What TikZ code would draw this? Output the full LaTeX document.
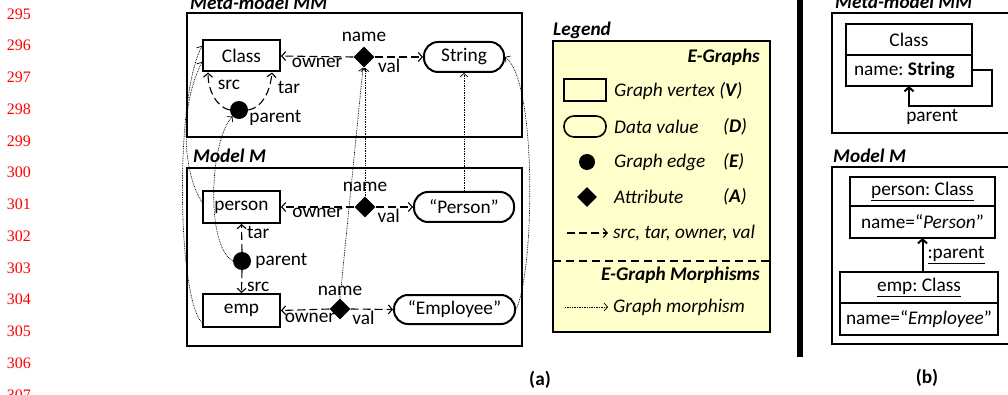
\documentclass[tikz,border=0pt]{standalone}
\usepackage{fontspec}
\setmainfont{Carlito}
\newfontfamily\linenofont{Liberation Serif}
\usepackage{tikz}
\usetikzlibrary{arrows.meta,positioning,shapes.geometric,calc}
\usepackage{xcolor}
\definecolor{legendyellow}{HTML}{FFFFCC}
\definecolor{linenored}{HTML}{FF0000}
\frenchspacing

\begin{document}
\begin{tikzpicture}[
  x=1pt, y=-1pt,
  font=\fontsize{19.3pt}{22pt}\selectfont,
  vertexbox/.style={
    draw,
    line width=2pt,
    minimum width=77pt,
    minimum height=31pt,
    inner sep=0pt
  },
  datavalue/.style={
    draw,
    line width=2pt,
    rounded corners=14pt,
    minimum height=30pt,
    inner sep=0pt
  },
  edgedot/.style={circle, fill=black, minimum size=18pt, inner sep=0pt},
  attrdia/.style={diamond, fill=black, minimum size=21pt, inner sep=0pt},
  elabel/.style={inner sep=1pt},
  titletext/.style={inner sep=0pt, font=\fontsize{19.3pt}{22pt}\selectfont\bfseries\itshape},
  legtext/.style={inner sep=0pt, anchor=west, font=\fontsize{19.3pt}{22pt}\selectfont\itshape},
  lineno/.style={anchor=east, inner sep=0pt, text=linenored, font=\fontsize{16pt}{18pt}\linenofont},
  dasharrow/.style={
    -{Straight Barb[length=4pt,width=9pt]},
    line width=1.1pt,
    dash pattern=on 8pt off 4pt
  },
  morpharrow/.style={
    -{Straight Barb[length=3.5pt,width=8pt]},
    line width=0.7pt,
    dash pattern=on 0.8pt off 0.9pt
  },
  framebox/.style={line width=2pt},
  umlpart/.style={draw, line width=2pt, inner sep=0pt, outer sep=0pt},
  umlarrow/.style={-{Straight Barb[length=4pt,width=9pt,line width=2pt]}, line width=2pt}
]
  \useasboundingbox (0,0) rectangle (1008,395);
  \clip (0,0) rectangle (1008,395);

  % Line numbers of the page
  \foreach \n [count=\i from 0] in {295,...,307}
    \node[lineno] (ln\n) at (31,{14+\i*31.75}) {\n};

  % --- (a) META-MODEL MM ---
  \draw[framebox] (187,13) rectangle (522,137);
  \node[titletext, anchor=base west] (mmtitle) at (190,10) {Meta-model MM};

  \node[vertexbox] (mmclass) at (241.5,56) {Class};
  \node[attrdia] (mmname) at (364,57) {};
  \node[elabel, above=3pt of mmname] (mmnamelbl) {name};
  \node[datavalue, minimum width=80pt] (mmstring) at (464,57) {String};
  \node[edgedot] (mmparent) at (239,110) {};
  \node[elabel, anchor=west] (mmparentlbl) at ([yshift=-8pt]mmparent.east) {parent};

  \draw[dasharrow] (mmname.west) -- (mmclass.east)
    node[midway, below=0pt, elabel] (mmowner) {owner};
  \draw[dasharrow] (mmname.east) -- (mmstring.west)
    node[pos=0.3, below=1pt, elabel] (mmval) {val};
  \draw[dasharrow] (mmparent.west) .. controls (218,108) and (208,92) .. ([xshift=6pt]mmclass.south west);
  \draw[dasharrow] (mmparent.east) .. controls (262,108) and (270,92) .. ([xshift=-9pt]mmclass.south east);
  \node[elabel] (mmsrc) at (229,85) {src};
  \node[elabel] (mmtar) at (289,87) {tar};

  % --- (a) MODEL M ---
  \draw[framebox] (187,168) rectangle (522,346);
  \node[titletext, anchor=base west] (mtitle) at (193,163) {Model M};

  \node[vertexbox, minimum height=32pt] (mperson) at (241.5,207) {person};
  \node[attrdia] (mpname) at (365,207) {};
  \node[elabel, above=3pt of mpname] (mpnamelbl) {name};
  \node[datavalue, minimum width=100pt] (mpval) at (464,207) {“Person”};

  \node[edgedot] (mparent) at (242,261) {};
  \node[elabel, right=3pt of mparent] (mparentlbl) {parent};

  \node[vertexbox, minimum height=33pt] (memp) at (241.5,310.5) {emp};
  \node[attrdia] (mename) at (340,309) {};
  \node[elabel, above=1pt of mename] (menamelbl) {name};
  \node[datavalue, minimum width=121pt, minimum height=29pt] (meval) at (454.5,309.5) {“Employee”};

  \draw[dasharrow] (mpname.west) -- (mperson.east)
    node[midway, below=0pt, elabel] (mpowner) {owner};
  \draw[dasharrow] (mpname.east) -- (mpval.west)
    node[pos=0.35, below=1pt, elabel] (mpvallbl) {val};
  \draw[dasharrow] (mparent.north) -- (mperson.south)
    node[pos=0.7, right=4pt, elabel] (mtar) {tar};
  \draw[dasharrow] (mparent.south) -- (memp.north)
    node[pos=0.72, right=4pt, elabel] (msrc) {src};
  \draw[dasharrow] (mename.west) -- (memp.east)
    node[pos=0.4, below=2pt, elabel] (meowner) {owner};
  \draw[dasharrow] (mename.east) -- (meval.west)
    node[pos=0.3, below=0pt, elabel] (mevallbl) {val};

  % Graph morphism M -> MM
  \draw[morpharrow] ([yshift=5pt]mperson.west) .. controls (185,177) and (177,112) .. ([yshift=-6pt]mmclass.west);
  \draw[morpharrow] ([yshift=-12pt]memp.west) .. controls (178,300) and (174,100) .. ([yshift=10pt]mmclass.west);
  \draw[morpharrow] (mparent.west) .. controls (205,245) and (210,140) .. (mmparent.south west);
  \draw[morpharrow] (mpname.north) -- ([xshift=1pt]mmname.south);
  \draw[morpharrow] (mename.north) -- ([xshift=-1pt]mmname.south);
  \draw[morpharrow] (mpval.north) -- (mmstring.south);
  \draw[morpharrow] (meval.east) .. controls (535,270) and (537,80) .. (mmstring.east);

  % --- LEGEND ---
  \node[titletext, anchor=base west] (legtitle) at (553,36) {Legend};
  \draw[framebox, fill=legendyellow] (553,41) rectangle (770,332);
  \node[titletext, anchor=east] (leggraphs) at (760,57) {E-Graphs};

  \node[vertexbox, line width=1.6pt, minimum width=42pt, minimum height=22pt] (legv) at (585,90) {};
  \node[legtext] (legvtxt) at (614,91) {Graph vertex (\textbf{V})};
  \node[datavalue, line width=1.6pt, rounded corners=10pt, minimum width=42pt, minimum height=21pt] (legd) at (585,126.5) {};
  \node[legtext] (legdtxt) at (614,127) {Data value};
  \node[legtext] (legdsym) at (723,127) {(\textbf{D})};
  \node[edgedot, minimum size=16pt] (lege) at (587,162) {};
  \node[legtext] (legetxt) at (614,162) {Graph edge};
  \node[legtext] (legesym) at (723,162) {(\textbf{E})};
  \node[attrdia, minimum size=20pt] (lega) at (587,197) {};
  \node[legtext] (legatxt) at (614,197) {Attribute};
  \node[legtext] (legasym) at (723,197) {(\textbf{A})};

  \coordinate (legdashA) at (567,233);
  \coordinate (legdashB) at (608,233);
  \draw[dasharrow] (legdashA) -- (legdashB);
  \node[legtext] (legdashtxt) at (613,233) {src, tar, owner, val};

  \draw[line width=2pt, dash pattern=on 8pt off 5pt] (553,261) -- (770,261);
  \node[titletext, anchor=east] (legmorph) at (760,275) {E-Graph Morphisms};

  \coordinate (legdotA) at (565,307);
  \coordinate (legdotB) at (608,307);
  \draw[morpharrow] (legdotA) -- (legdotB);
  \node[legtext] (legdottxt) at (613,307) {Graph morphism};

  \node[font=\fontsize{19.3pt}{22pt}\selectfont\bfseries] (capa) at (540,380) {(a)};

  % --- (b) UML VIEW ---
  \draw[line width=6pt] (800,0) -- (800,357);

  \draw[framebox] (832,13) rectangle (1020,133);
  \node[titletext, anchor=base west] (bmmtitle) at (835,9) {Meta-model MM};
  \node[umlpart, minimum width=126pt, minimum height=31pt] (bclass) at (909,39.5) {Class};
  \node[umlpart, minimum width=126pt, minimum height=31pt, text width=110pt, align=flush left, below=0pt of bclass] (bclassattr) {name: \textbf{String}};
  \draw[umlarrow] (bclassattr.east) -- ++(20,0) -- ++(0,35.5)
    -| node[pos=0.36, below=1pt, elabel] (bparent) {parent} (bclassattr.south);

  \draw[framebox] (832,167) rectangle (1020,344);
  \node[titletext, anchor=base west] (bmtitle) at (833,163) {Model M};
  \node[umlpart, minimum width=145pt, minimum height=29pt] (bperson) at (922.5,191.5) {\underline{person: Class}};
  \node[umlpart, minimum width=145pt, minimum height=32pt, below=0pt of bperson] (bpersonattr) {name=“\textit{Person}”};
  \node[umlpart, minimum width=158pt, minimum height=31pt] (bemp) at (919,287.5) {\underline{emp: Class}};
  \node[umlpart, minimum width=158pt, minimum height=32pt, below=0pt of bemp] (bempattr) {name=“\textit{Employee}”};
  \draw[umlarrow] (bemp.north -| bpersonattr.south) -- (bpersonattr.south)
    node[midway, right=3pt, elabel] (bparentlink) {\underline{:parent}};

  \node[font=\fontsize{19.3pt}{22pt}\selectfont\bfseries] (capb) at (927,378) {(b)};

\end{tikzpicture}
\end{document}
